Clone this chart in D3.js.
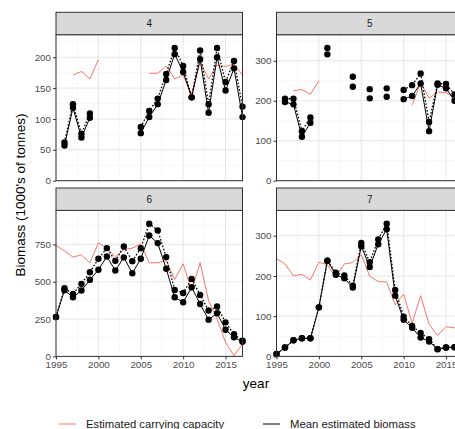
<!DOCTYPE html>
<html>
<head>
<meta charset="utf-8">
<script src="https://cdn.jsdelivr.net/npm/d3@7"></script>
<style>
  body { margin: 0; background: #fff; }
  svg { font-family: "Liberation Sans", Arial, sans-serif; display: block; }
</style>
</head>
<body>
<div id="chart"></div>
<script>
// years shared by every facet
const years = [1995, 1996, 1997, 1998, 1999, 2000, 2001, 2002, 2003, 2004, 2005, 2006,
               2007, 2008, 2009, 2010, 2011, 2012, 2013, 2014, 2015, 2016, 2017];

const facetNames = ["4", "5", "6", "7"];

// Estimated carrying capacity (red)
const carrying4 = [null, null, 171, 177, 165, 196, null, null, null, null, null, 174, 174, 186, 165, 171, 140, 192, 165, 187, 185, 189, 171];
const carrying5 = [null, null, 225, 228, 216, 250, null, null, null, null, null, null, null, null, null, null, 189, 245, 206, 222, 220, 208, 195];
const carrying6 = [743, 707, 665, 680, 627, 761, 725, 667, 716, 725, 754, 627, 627, 642, 515, 620, 441, 627, 374, 251, 94, 5, 83];
const carrying7 = [243, 230, 200, 204, 190, 234, 228, 196, 230, 233, 253, 199, 186, 185, 128, 155, 82, 151, 80, 52, 74, 71, 68];

// Mean estimated biomass (solid black)
const mean4 = [null, 57, 118, 70, 102, null, null, null, null, null, 77, 103, 124, 163, 205, 176, 135, 197, 110, 200, 146, 182, 103];
const mean5 = [null, 197, 191, 110, 145, null, 316, null, null, 235, null, 206, null, 210, null, 204, 212, 243, 124, 240, 231, 200, 185];
const mean6 = [264, 443, 396, 441, 513, 580, 669, 575, 663, 557, 654, 810, 759, 587, 396, 363, 463, 351, 246, 289, 179, 128, 98];
const mean7 = [6, 22, 40, 45, 45, 122, 238, 203, 194, 171, 274, 222, 279, 316, 151, 91, 71, 47, 37, 18, 22, 23, 23];

// second biomass series (dotted black)
const obs4 = [null, 62, 124, 76, 109, null, null, null, null, null, 87, 113, 133, 173, 215, 186, 135, 211, 124, 215, 160, 194, 120];
const obs5 = [null, 205, 205, 124, 158, null, 332, null, null, 260, null, 229, null, 231, null, 227, 239, 268, 147, 243, 242, 216, 200];
const obs6 = [264, 457, 419, 486, 564, 654, 725, 640, 736, 638, 725, 889, 844, 665, 445, 425, 519, 412, 307, 334, 228, 148, 105];
const obs7 = [6, 22, 40, 45, 45, 122, 238, 208, 201, 176, 282, 234, 291, 330, 165, 99, 76, 58, 43, 18, 22, 23, 23];

const yTicks4 = [0, 50, 100, 150, 200];
const yTicks5 = [0, 100, 200, 300];
const yTicks6 = [0, 250, 500, 750];
const yTicks7 = [0, 100, 200, 300];
const xTicks = [1995, 2000, 2005, 2010, 2015];

const legendLabels = ["Estimated carrying capacity", "Mean estimated biomass"];

const facets = [
    {name: facetNames[0], carrying: carrying4, mean: mean4, obs: obs4, ticks: yTicks4, col: 0, row: 0},
    {name: facetNames[1], carrying: carrying5, mean: mean5, obs: obs5, ticks: yTicks5, col: 1, row: 0},
    {name: facetNames[2], carrying: carrying6, mean: mean6, obs: obs6, ticks: yTicks6, col: 0, row: 1},
    {name: facetNames[3], carrying: carrying7, mean: mean7, obs: obs7, ticks: yTicks7, col: 1, row: 1}
];

const width = 455, height = 429;
const colLeft = [56, 276.5];
const stripTop = [12.3, 188];
const panelW = 186.5, stripH = 22.4, panelH = 146;
const red = "#F8766D";

const svg = d3.select("#chart").append("svg")
    .attr("width", width)
    .attr("height", height);

svg.append("rect").attr("width", width).attr("height", height).attr("fill", "#fff");

const x = d3.scaleLinear()
    .domain([years[0], years[years.length - 1]])
    .range([0, panelW]);

facets.forEach(function(f) {
    let top = stripTop[f.row] + stripH;
    let g = svg.append("g")
        .attr("transform", "translate(" + colLeft[f.col] + "," + top + ")");

    let ymax = d3.max([d3.max(f.carrying), d3.max(f.mean), d3.max(f.obs)]) * 1.1;
    let y = d3.scaleLinear().domain([0, ymax]).range([panelH, 0]);

    // minor grid
    let minorX = xTicks.map(d => d + 2.5);
    let minorY = f.ticks.map(d => d + (f.ticks[1] - f.ticks[0]) / 2).filter(d => d < ymax);
    g.selectAll(".minx").data(minorX).enter().append("line")
        .attr("x1", d => x(d)).attr("x2", d => x(d))
        .attr("y1", 0).attr("y2", panelH)
        .attr("stroke", "#F2F2F2").attr("stroke-width", 0.6);
    g.selectAll(".miny").data(minorY).enter().append("line")
        .attr("x1", 0).attr("x2", panelW)
        .attr("y1", d => y(d)).attr("y2", d => y(d))
        .attr("stroke", "#F2F2F2").attr("stroke-width", 0.6);
    // major grid
    g.selectAll(".majx").data(xTicks).enter().append("line")
        .attr("x1", d => x(d)).attr("x2", d => x(d))
        .attr("y1", 0).attr("y2", panelH)
        .attr("stroke", "#E6E6E6").attr("stroke-width", 1);
    g.selectAll(".majy").data(f.ticks).enter().append("line")
        .attr("x1", 0).attr("x2", panelW)
        .attr("y1", d => y(d)).attr("y2", d => y(d))
        .attr("stroke", "#E6E6E6").attr("stroke-width", 1);

    // strip
    svg.append("rect")
        .attr("x", colLeft[f.col]).attr("y", stripTop[f.row])
        .attr("width", panelW).attr("height", stripH)
        .attr("fill", "#D9D9D9").attr("stroke", "#333").attr("stroke-width", 1);
    svg.append("text")
        .attr("x", colLeft[f.col] + panelW / 2)
        .attr("y", stripTop[f.row] + stripH / 2 + 3.5)
        .attr("text-anchor", "middle")
        .style("font-size", "10px")
        .attr("fill", "#1A1A1A")
        .text(f.name);

    // lines
    let rows = years.map((yr, i) => ({year: yr, carrying: f.carrying[i], mean: f.mean[i], obs: f.obs[i]}));
    let makeLine = key => d3.line()
        .defined(d => d[key] !== null)
        .x(d => x(d.year))
        .y(d => y(d[key]));

    g.append("path").datum(rows)
        .attr("fill", "none").attr("stroke", red).attr("stroke-width", 1)
        .attr("d", makeLine("carrying"));
    g.append("path").datum(rows)
        .attr("fill", "none").attr("stroke", "#000").attr("stroke-width", 1.3)
        .attr("stroke-dasharray", "1.6,1.8")
        .attr("d", makeLine("obs"));
    g.append("path").datum(rows)
        .attr("fill", "none").attr("stroke", "#000").attr("stroke-width", 1)
        .attr("d", makeLine("mean"));

    ["obs", "mean"].forEach(function(key) {
        g.selectAll(".pt-" + key).data(rows.filter(d => d[key] !== null)).enter()
            .append("circle")
            .attr("cx", d => x(d.year))
            .attr("cy", d => y(d[key]))
            .attr("r", 3.2)
            .attr("fill", "#000");
    });

    // panel border
    g.append("rect")
        .attr("width", panelW).attr("height", panelH)
        .attr("fill", "none").attr("stroke", "#333").attr("stroke-width", 1);

    // y axis
    let yAxis = d3.axisLeft(y).tickValues(f.ticks).tickSize(3).tickPadding(2);
    let ya = g.append("g").call(yAxis);
    ya.select(".domain").remove();
    ya.selectAll("line").attr("stroke", "#333");
    ya.selectAll("text").attr("fill", "#4D4D4D")
        .style("font-size", "9.8px")
        .style("font-family", "Liberation Sans, Arial, sans-serif");

    // x axis on bottom row
    if (f.row === 1) {
        let xAxis = d3.axisBottom(x).tickValues(xTicks).tickFormat(d3.format("d")).tickSize(3).tickPadding(1.5);
        let xa = g.append("g").attr("transform", "translate(0," + panelH + ")").call(xAxis);
        xa.select(".domain").remove();
        xa.selectAll("line").attr("stroke", "#333");
        xa.selectAll("text").attr("fill", "#4D4D4D")
            .style("font-size", "9.8px")
            .style("font-family", "Liberation Sans, Arial, sans-serif");
    }
});

// axis titles
svg.append("text")
    .attr("x", 256).attr("y", 388)
    .attr("text-anchor", "middle")
    .style("font-size", "13.5px")
    .text("year");

svg.append("text")
    .attr("transform", "translate(25," + 195 + ") rotate(-90)")
    .attr("text-anchor", "middle")
    .style("font-size", "13.5px")
    .text("Biomass (1000's of tonnes)");

// legend
let legend = svg.append("g").attr("transform", "translate(0,424)");
legend.append("line").attr("x1", 59).attr("x2", 76).attr("y1", 0).attr("y2", 0)
    .attr("stroke", red).attr("stroke-width", 1);
legend.append("text").attr("x", 86).attr("y", 4)
    .style("font-size", "11.3px").attr("fill", "#1A1A1A").text(legendLabels[0]);
legend.append("line").attr("x1", 263).attr("x2", 280).attr("y1", 0).attr("y2", 0)
    .attr("stroke", "#000").attr("stroke-width", 1);
legend.append("text").attr("x", 290).attr("y", 4)
    .style("font-size", "11.3px").attr("fill", "#1A1A1A").text(legendLabels[1]);
</script>
</body>
</html>
